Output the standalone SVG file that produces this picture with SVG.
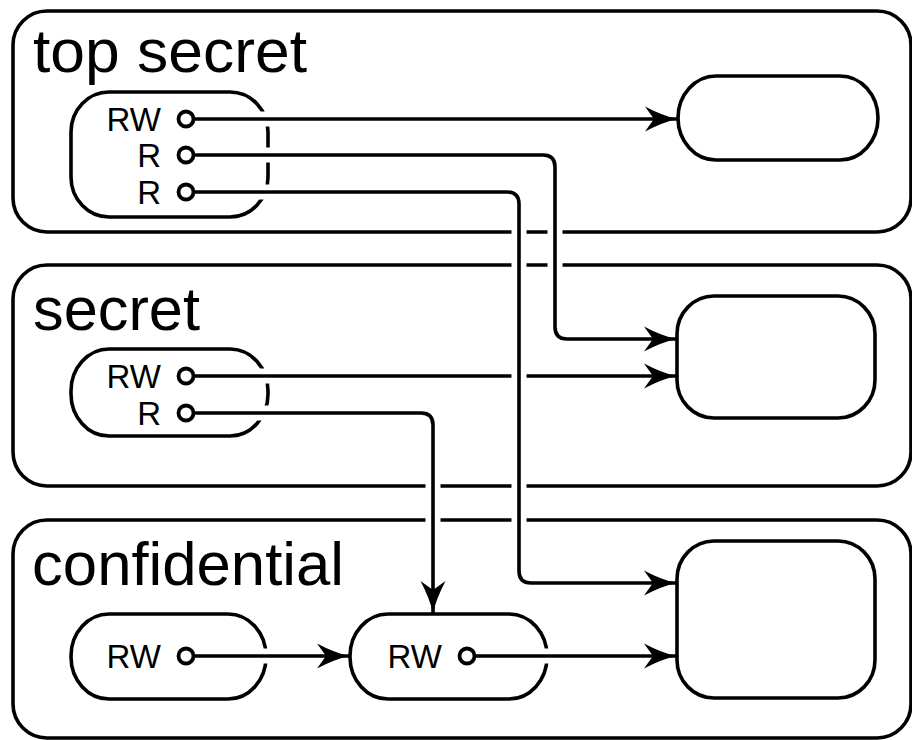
<svg xmlns="http://www.w3.org/2000/svg" width="912" height="740" viewBox="0 0 912 740">
<style>
.region{fill:#fff;stroke:#000;stroke-width:3.6}
.proc{fill:#fff;stroke:#000;stroke-width:3.6}
.target{fill:#fff;stroke:#000;stroke-width:3.6}
.title{font-family:"Liberation Sans",Arial,sans-serif;font-size:61px;fill:#000}
.lbl{font-family:"Liberation Sans",Arial,sans-serif;font-size:33px;fill:#000;text-anchor:end}
.port{fill:#fff;stroke:#000;stroke-width:3.8}
.halo{fill:none;stroke:#fff;stroke-width:15}
.wire{fill:none;stroke:#000;stroke-width:3.6;marker-end:url(#arr)}
</style>
<defs>
<marker id="arr" markerUnits="userSpaceOnUse" markerWidth="36" markerHeight="28" refX="33" refY="14" orient="auto" overflow="visible">
<path d="M33,14 Q18,10.5 1,1.5 L10,14 L1,26.5 Q18,17.5 33,14 Z" fill="#000"/>
</marker>
</defs>
<rect width="912" height="740" fill="#fff"/>
<g id="regions">
<g id="region-top-secret">
<rect class="region" x="13" y="11" width="898" height="221" rx="34" ry="34"/>
<text class="title" x="33" y="72" textLength="274" lengthAdjust="spacingAndGlyphs">top secret</text>
</g>
<g id="region-secret">
<rect class="region" x="13" y="265" width="898" height="221" rx="34" ry="34"/>
<text class="title" x="33" y="330" textLength="167" lengthAdjust="spacingAndGlyphs">secret</text>
</g>
<g id="region-confidential">
<rect class="region" x="13" y="520" width="898" height="218" rx="34" ry="34"/>
<text class="title" x="32" y="585" textLength="312" lengthAdjust="spacingAndGlyphs">confidential</text>
</g>
</g>
<g id="proc-top-secret">
<rect class="proc" x="71" y="92" width="197" height="125" rx="38" ry="40"/>
<text class="lbl" x="161" y="131">RW</text>
<text class="lbl" x="161" y="167">R</text>
<text class="lbl" x="161" y="204">R</text>
<circle class="port" cx="186" cy="119" r="7.5"/>
<circle class="port" cx="186" cy="155" r="7.5"/>
<circle class="port" cx="186" cy="192" r="7.5"/>
</g>
<g id="proc-secret">
<rect class="proc" x="71" y="349" width="197" height="87" rx="38" ry="42"/>
<text class="lbl" x="161" y="388">RW</text>
<text class="lbl" x="161" y="425">R</text>
<circle class="port" cx="186" cy="376" r="7.5"/>
<circle class="port" cx="186" cy="413" r="7.5"/>
</g>
<g id="proc-confidential-1">
<rect class="proc" x="71" y="614" width="195" height="85" rx="38" ry="42"/>
<text class="lbl" x="161" y="668">RW</text>
<circle class="port" cx="186" cy="656" r="7.5"/>
</g>
<g id="proc-confidential-2">
<rect class="proc" x="350" y="614" width="197" height="85" rx="38" ry="42"/>
<text class="lbl" x="442" y="668">RW</text>
<circle class="port" cx="467" cy="656" r="7.5"/>
</g>
<g id="target-top">
<rect class="target" x="678" y="76" width="200" height="84" rx="38" ry="42"/>
</g>
<g id="target-middle">
<rect class="target" x="677" y="296" width="198" height="122" rx="37" ry="38"/>
</g>
<g id="target-bottom">
<rect class="target" x="677" y="541" width="198" height="157" rx="37" ry="38"/>
</g>
<g id="connectors">
<path class="halo" d="M196,119 H642"/>
<path class="wire" d="M194,119 H677"/>
<path class="halo" d="M196,155 H543 Q555,155 555,167 V327 Q555,339 567,339 H642"/>
<path class="wire" d="M194,155 H543 Q555,155 555,167 V327 Q555,339 567,339 H676"/>
<path class="halo" d="M196,376 H642"/>
<path class="wire" d="M194,376 H676"/>
<path class="halo" d="M196,192 H507 Q519,192 519,204 V571 Q519,583 531,583 H642"/>
<path class="wire" d="M194,192 H507 Q519,192 519,204 V571 Q519,583 531,583 H676"/>
<path class="halo" d="M196,413 H421 Q433,413 433,425 V578"/>
<path class="wire" d="M194,413 H421 Q433,413 433,425 V613"/>
<path class="halo" d="M196,656 H315"/>
<path class="wire" d="M194,656 H349"/>
<path class="halo" d="M477,656 H642"/>
<path class="wire" d="M475,656 H676"/>
</g>
</svg>
